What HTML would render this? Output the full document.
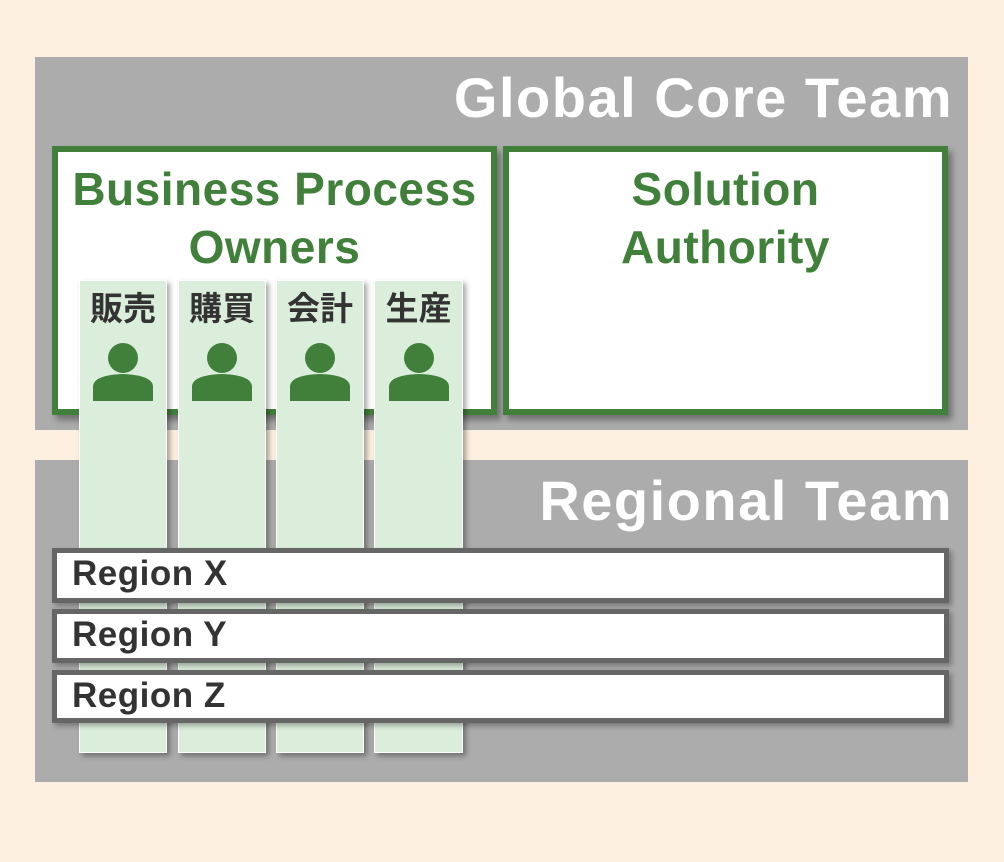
<!DOCTYPE html>
<html><head><meta charset="utf-8"><style>
body{margin:0;width:1004px;height:862px;background:#fdf0e0;position:relative;overflow:hidden;font-family:"Liberation Sans","Noto Sans CJK JP",sans-serif;}
.a{position:absolute;box-sizing:border-box;}
.gray{background:#acacac;}
.title{color:#fff;font-weight:bold;font-size:56px;text-align:right;letter-spacing:1.5px;}
.gbox{background:#fff;border:6px solid #41803a;box-shadow:4px 5px 6px rgba(0,0,0,.35);color:#41803a;font-weight:bold;font-size:46px;text-align:center;line-height:58px;letter-spacing:0.5px;}
.col{background:#dbeedb;border:1px solid #fff;box-shadow:3px 3px 5px rgba(0,0,0,.35);text-align:center;}
.col .t{font-weight:bold;font-size:33px;color:#333;margin-top:8px;line-height:40px;}
.col svg{display:block;margin:14px auto 0;}
.reg{background:#fff;border:5px solid #666;box-shadow:3px 3px 5px rgba(0,0,0,.3);font-weight:bold;font-size:35px;color:#333;padding-left:15px;line-height:42px;letter-spacing:0.5px;}
</style></head><body>
<div class="a gray" style="left:35px;top:57px;width:933px;height:373px"></div>
<div class="a title" style="left:35px;top:65px;width:918px;">Global Core Team</div>
<div class="a gbox" style="left:52px;top:146px;width:445px;height:269px;padding-top:8px">Business Process<br>Owners</div>
<div class="a gbox" style="left:503px;top:146px;width:445px;height:269px;padding-top:8px">Solution<br>Authority</div>
<div class="a gray" style="left:35px;top:460px;width:933px;height:322px"></div>
<div class="a title" style="left:35px;top:468px;width:918px;">Regional Team</div>

<div class="a col" style="left:79px;top:280px;width:88px;height:473px"><div class="t">販売</div><svg width="60" height="60" viewBox="0 0 60 60"><circle cx="30" cy="15" r="15" fill="#41803a"/><path d="M0 58 V44 Q0 32 30 31 Q60 32 60 44 V58Z" fill="#41803a"/></svg></div>
<div class="a col" style="left:178px;top:280px;width:88px;height:473px"><div class="t">購買</div><svg width="60" height="60" viewBox="0 0 60 60"><circle cx="30" cy="15" r="15" fill="#41803a"/><path d="M0 58 V44 Q0 32 30 31 Q60 32 60 44 V58Z" fill="#41803a"/></svg></div>
<div class="a col" style="left:276px;top:280px;width:88px;height:473px"><div class="t">会計</div><svg width="60" height="60" viewBox="0 0 60 60"><circle cx="30" cy="15" r="15" fill="#41803a"/><path d="M0 58 V44 Q0 32 30 31 Q60 32 60 44 V58Z" fill="#41803a"/></svg></div>
<div class="a col" style="left:374px;top:280px;width:89px;height:473px"><div class="t">生産</div><svg width="60" height="60" viewBox="0 0 60 60"><circle cx="30" cy="15" r="15" fill="#41803a"/><path d="M0 58 V44 Q0 32 30 31 Q60 32 60 44 V58Z" fill="#41803a"/></svg></div>

<div class="a reg" style="left:52px;top:548px;width:897px;height:55px">Region X</div>
<div class="a reg" style="left:52px;top:609px;width:897px;height:54px">Region Y</div>
<div class="a reg" style="left:52px;top:670px;width:897px;height:53px">Region Z</div>
</body></html>
